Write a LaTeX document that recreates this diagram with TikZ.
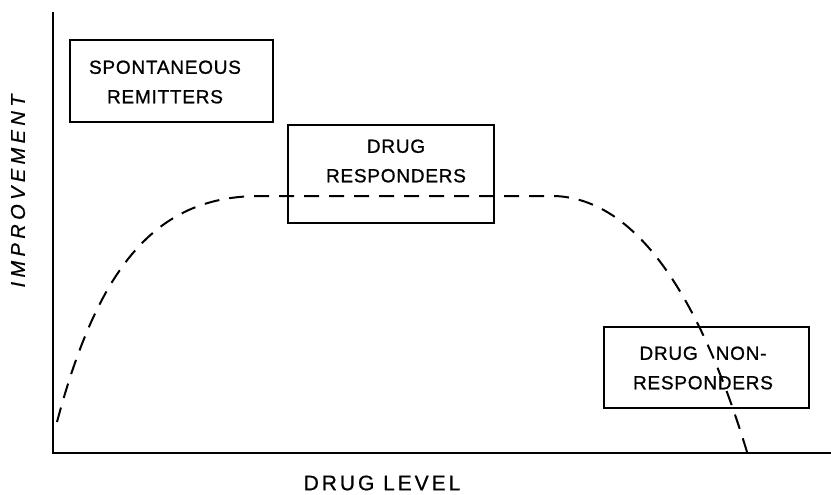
\documentclass[tikz,border=0pt]{standalone}
\usepackage{fontspec}
\setmainfont{Liberation Sans}
\newfontfamily\boxfont[LetterSpace=4,FakeBold=1]{Liberation Sans}
\newfontfamily\axfont[LetterSpace=14,FakeBold=0.8]{Liberation Sans}
\newfontfamily\axitfont[LetterSpace=22,FakeBold=0.6]{Liberation Sans Italic}
\begin{document}
\begin{tikzpicture}[x=1pt,y=-1pt,
  frame/.style={draw,line width=1.8pt,rectangle,inner sep=0pt},
  boxtext/.style={align=center,font=\boxfont\fontsize{19}{29.5}\selectfont,inner sep=0pt},
  axis/.style={line width=2.8pt},
  curve/.style={line width=2pt,dash pattern=on 15pt off 10pt}]
\useasboundingbox (0,0) rectangle (831,495);
% axes
\coordinate (ytop) at (53,12);
\coordinate (orig) at (53,453);
\coordinate (xend) at (831,453);
\draw[axis] (ytop) -- (orig) -- (xend);
% boxes
\node[frame,minimum width=203pt,minimum height=82pt] (b1) at (171.5,81) {};
\node[boxtext] (t1) at (165,82) {SPONTANEOUS\\REMITTERS};
\node[frame,minimum width=206pt,minimum height=98pt] (b2) at (391,174) {};
\node[boxtext] (t2) at (396,161) {DRUG\\RESPONDERS};
\node[frame,minimum width=205pt,minimum height=81pt] (b3) at (706.5,367.5) {};
\node[boxtext] (t3) at (703,368) {DRUG\hspace{18pt}NON-\\RESPONDERS};
% curve
\coordinate (c0) at (57,422);
\coordinate (c1) at (260,196);
\coordinate (c2) at (555,196);
\coordinate (c3) at (747,452);
\draw[curve] (c0) .. controls (100,260) and (160,196) .. (c1) -- (c2)
  .. controls (650,200) and (710,330) .. (c3);
% axis labels
\node[font=\axfont\fontsize{21}{25}\selectfont,inner sep=0pt] (xl) at (382,483) {DRUG LEVEL};
\node[font=\axitfont\fontsize{20}{24}\selectfont,inner sep=0pt,rotate=90] (yl) at (18,191) {IMPROVEMENT};
\end{tikzpicture}
\end{document}
